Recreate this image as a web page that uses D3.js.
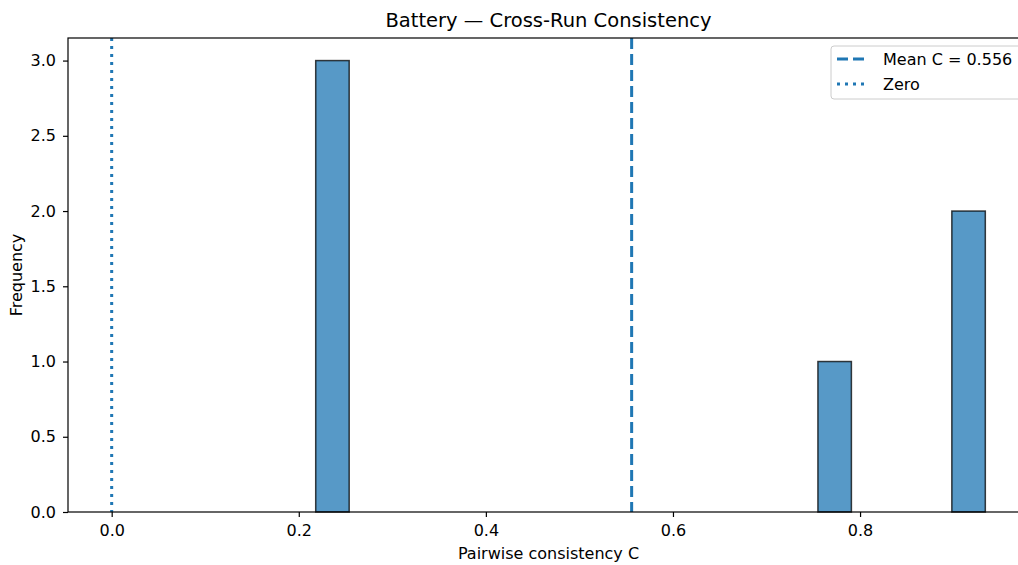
<!DOCTYPE html>
<html lang="en">
<head>
    <meta charset="UTF-8">
    <title>Battery — Cross-Run Consistency</title>
    <script src="https://d3js.org/d3.v7.min.js"></script>
    <style>
        body { margin: 0; background: #fff; }
        svg { display: block; }
        text { font-family: "DejaVu Sans", sans-serif; fill: #000; }
        .tick text { font-size: 16px; }
        .tick line { stroke: #000; stroke-width: 1.2; }
        .domain { display: none; }
    </style>
</head>
<body>
<script>
    // pairwise consistency values
    const consistency = [0.2181, 0.235, 0.245, 0.775, 0.928, 0.9339]
    const nBins = 20
    const xTicks = [0.0, 0.2, 0.4, 0.6, 0.8]
    const yTicks = [0.0, 0.5, 1.0, 1.5, 2.0, 2.5, 3.0]
    const zeroLine = 0

    const width = 1018
    const height = 565
    const margin = { left: 68, top: 38, right: 1029, bottom: 512 }

    let svg = d3.select("body").append("svg")
        .attr("width", width).attr("height", height)

    const ext = d3.extent(consistency)
    const step = (ext[1] - ext[0]) / nBins
    const bins = d3.bin()
        .domain(ext)
        .thresholds(d3.range(1, nBins).map(i => ext[0] + i * step))(consistency)
    const meanC = d3.mean(consistency)

    // matplotlib style limits: 5% margin round data (incl. zero line)
    const xlo = Math.min(zeroLine, ext[0]), xhi = ext[1]
    const x = d3.scaleLinear()
        .domain([xlo - 0.05 * (xhi - xlo), xhi + 0.05 * (xhi - xlo)])
        .range([margin.left, margin.right])
    const ymax = d3.max(bins, d => d.length)
    const y = d3.scaleLinear()
        .domain([0, ymax * 1.05])
        .range([margin.bottom, margin.top])

    let gPlot = svg.append("g")

    gPlot.selectAll("rect")
        .data(bins.filter(b => b.length > 0))
        .enter()
        .append("rect")
        .attr("x", d => x(d.x0))
        .attr("y", d => y(d.length))
        .attr("width", d => x(d.x1) - x(d.x0))
        .attr("height", d => y(0) - y(d.length))
        .attr("fill", "#1f77b4")
        .attr("fill-opacity", 0.75)
        .attr("stroke", "#000")
        .attr("stroke-opacity", 0.75)
        .attr("stroke-width", 1.5)

    // reference lines
    gPlot.append("line")
        .attr("x1", x(meanC)).attr("x2", x(meanC))
        .attr("y1", margin.top).attr("y2", margin.bottom)
        .attr("stroke", "#1f77b4").attr("stroke-width", 3)
        .attr("stroke-dasharray", "11,5")
    gPlot.append("line")
        .attr("x1", x(zeroLine)).attr("x2", x(zeroLine))
        .attr("y1", margin.top).attr("y2", margin.bottom)
        .attr("stroke", "#1f77b4").attr("stroke-width", 3)
        .attr("stroke-dasharray", "3,5")

    // axes
    svg.append("g")
        .attr("transform", `translate(0,${margin.bottom})`)
        .call(d3.axisBottom(x).tickValues(xTicks).tickFormat(d3.format(".1f")).tickSize(5).tickPadding(7.5))
    svg.append("g")
        .attr("transform", `translate(${margin.left},0)`)
        .call(d3.axisLeft(y).tickValues(yTicks).tickFormat(d3.format(".1f")).tickSize(5).tickPadding(7))
    svg.selectAll(".tick text").attr("font-size", null)

    // spines (right one falls outside the picture)
    svg.append("rect")
        .attr("x", margin.left).attr("y", margin.top)
        .attr("width", margin.right - margin.left)
        .attr("height", margin.bottom - margin.top)
        .attr("fill", "none").attr("stroke", "#000").attr("stroke-width", 1.2)

    svg.append("text")
        .attr("x", (margin.left + margin.right) / 2).attr("y", 27)
        .attr("text-anchor", "middle").attr("font-size", 19.5)
        .text("Battery — Cross-Run Consistency")
    svg.append("text")
        .attr("x", (margin.left + margin.right) / 2).attr("y", 559)
        .attr("text-anchor", "middle").attr("font-size", 16)
        .text("Pairwise consistency C")
    svg.append("text")
        .attr("transform", `translate(22,${(margin.top + margin.bottom) / 2}) rotate(-90)`)
        .attr("text-anchor", "middle").attr("font-size", 16)
        .text("Frequency")

    // legend
    let gLeg = svg.append("g").attr("transform", "translate(831,46)")
    gLeg.append("rect")
        .attr("width", 210).attr("height", 53).attr("rx", 3)
        .attr("fill", "#fff").attr("fill-opacity", 0.8)
        .attr("stroke", "#ccc").attr("stroke-width", 1)
    const legItems = [
        { label: `Mean C = ${d3.format(".3f")(meanC)}`, dash: "11,5" },
        { label: "Zero", dash: "3,5" }
    ]
    legItems.forEach((d, i) => {
        const cy = 13 + i * 25
        gLeg.append("line")
            .attr("x1", 6).attr("x2", 36).attr("y1", cy).attr("y2", cy)
            .attr("stroke", "#1f77b4").attr("stroke-width", 3)
            .attr("stroke-dasharray", d.dash)
        gLeg.append("text")
            .attr("x", 52).attr("y", cy).attr("dy", "0.35em")
            .attr("font-size", 16)
            .text(d.label)
    })
</script>
</body>
</html>
